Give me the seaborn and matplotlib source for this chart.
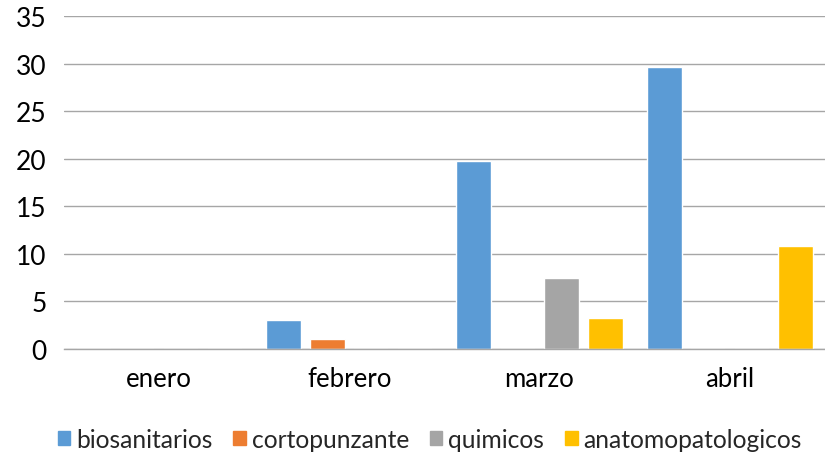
import pandas as pd
import matplotlib.pyplot as plt
import seaborn as sns

meses = ["enero", "febrero", "marzo", "abril"]
biosanitarios = [0, 3.0, 19.8, 29.6]
cortopunzante = [0, 1.0, 0, 0]
quimicos = [0, 0, 7.5, 0]
anatomopatologicos = [0, 0, 3.3, 10.8]

series = {
    "biosanitarios": biosanitarios,
    "cortopunzante": cortopunzante,
    "quimicos": quimicos,
    "anatomopatologicos": anatomopatologicos,
}
colores = ["#5B9BD5", "#ED7D31", "#A5A5A5", "#FFC000"]

rows = []
for nombre, vals in series.items():
    for mes, v in zip(meses, vals):
        rows.append({"mes": mes, "tipo": nombre, "valor": v})
df = pd.DataFrame(rows)

sns.set_style("white")
plt.rcParams["font.family"] = ["Lato", "DejaVu Sans"]

fig = plt.figure(figsize=(8.25, 4.56), dpi=100)
ax = fig.add_axes([0.077, 0.2325, 0.923, 0.730])

sns.barplot(data=df, x="mes", y="valor", hue="tipo", palette=colores,
            width=0.92, gap=0.2, ax=ax, legend=False, saturation=1)

ax.set_ylim(0, 35)
ax.set_xlim(-0.5, 3.5)
ax.set_yticks(range(0, 36, 5))
ax.yaxis.grid(True, color="#A6A6A6", linewidth=1)
ax.set_axisbelow(True)
for s in ["top", "right", "left"]:
    ax.spines[s].set_visible(False)
ax.spines["bottom"].set_color("#A6A6A6")
ax.spines["bottom"].set_linewidth(1)
ax.tick_params(axis="y", length=0, labelsize=19, colors="black", pad=12)
ax.tick_params(axis="x", length=0, labelsize=18.5, colors="black", pad=12)
ax.set_xlabel("")
ax.set_ylabel("")

handles = [plt.Rectangle((0, 0), 1, 1, color=c) for c in colores]
fig.legend(handles, list(series.keys()), loc="center", bbox_to_anchor=(0.521, 0.035),
           ncol=4, frameon=False, fontsize=17.7, handlelength=0.5, handleheight=0.5,
           handletextpad=0.25, columnspacing=0.85)

fig.savefig("out.png", dpi=100)
